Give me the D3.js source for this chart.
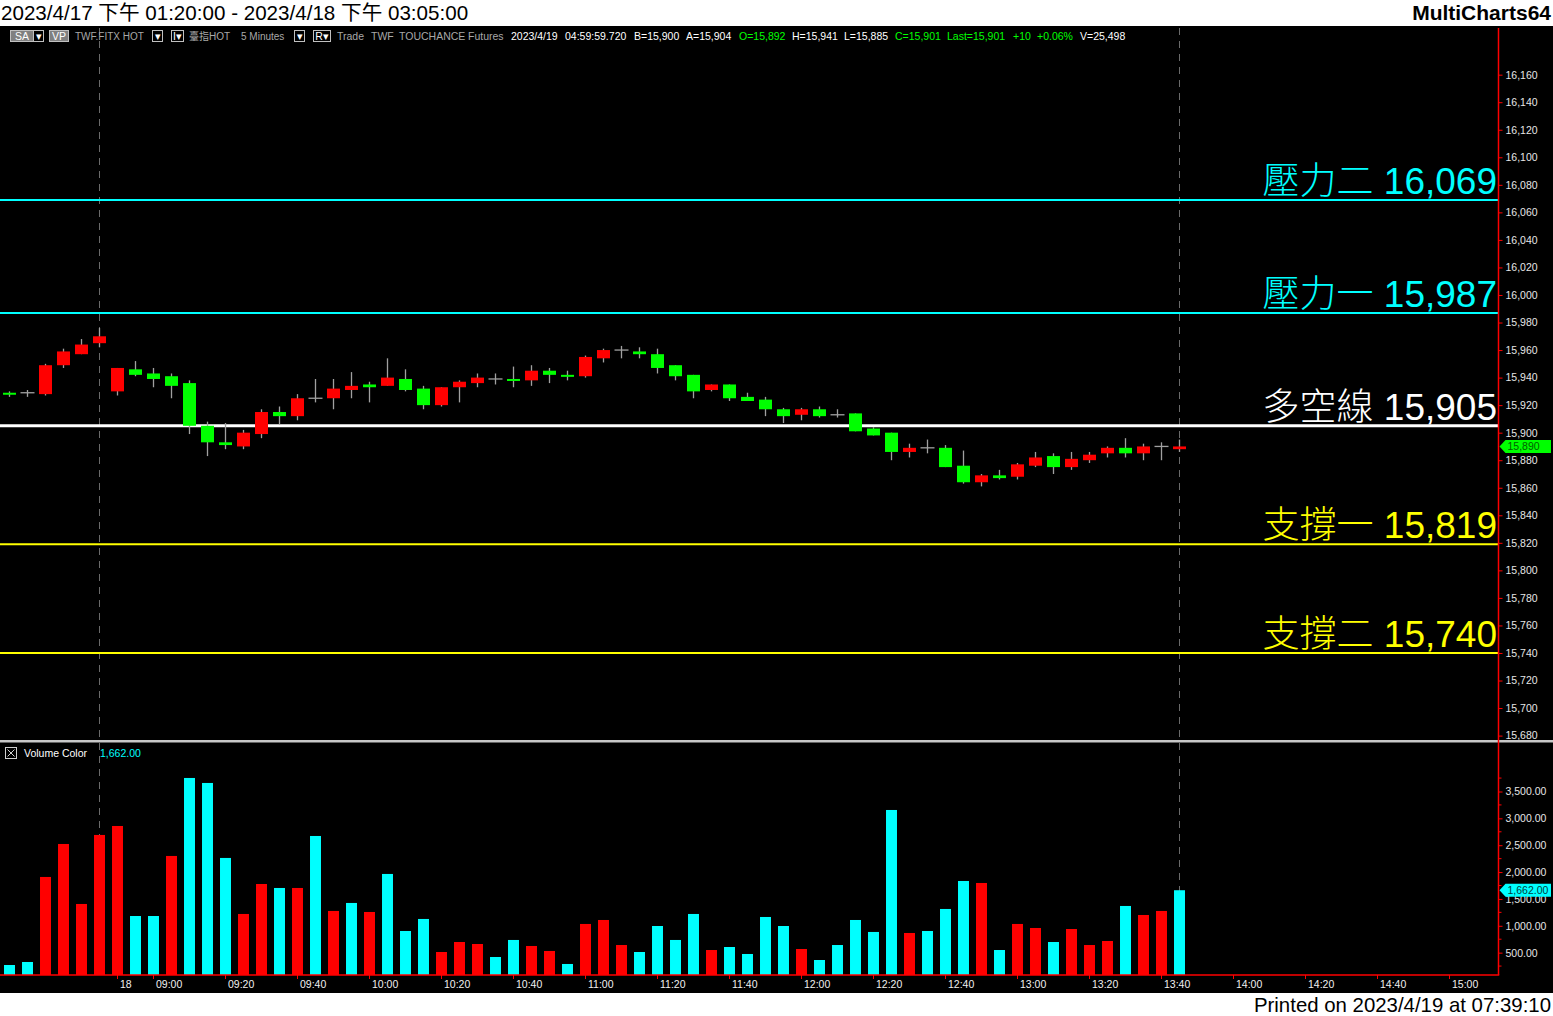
<!DOCTYPE html>
<html><head><meta charset="utf-8">
<script src="https://cdn.jsdelivr.net/npm/d3@7/dist/d3.min.js"></script>
<style>
html,body{margin:0;padding:0;background:#fff;overflow:hidden}
svg{display:block}
text{font-family:"Liberation Sans",Arial,"Noto Sans CJK TC",sans-serif}
</style></head><body>
<svg id="c" width="1553" height="1016"></svg>
<script>
// ---------------- DATA ----------------
const times = [
 "04/17 13:20","04/17 13:25","04/17 13:30","04/17 13:35","04/17 13:40","04/17 13:45",
 "04/18 08:50","04/18 08:55","04/18 09:00","04/18 09:05","04/18 09:10","04/18 09:15",
 "04/18 09:20","04/18 09:25","04/18 09:30","04/18 09:35","04/18 09:40","04/18 09:45",
 "04/18 09:50","04/18 09:55","04/18 10:00","04/18 10:05","04/18 10:10","04/18 10:15",
 "04/18 10:20","04/18 10:25","04/18 10:30","04/18 10:35","04/18 10:40","04/18 10:45",
 "04/18 10:50","04/18 10:55","04/18 11:00","04/18 11:05","04/18 11:10","04/18 11:15",
 "04/18 11:20","04/18 11:25","04/18 11:30","04/18 11:35","04/18 11:40","04/18 11:45",
 "04/18 11:50","04/18 11:55","04/18 12:00","04/18 12:05","04/18 12:10","04/18 12:15",
 "04/18 12:20","04/18 12:25","04/18 12:30","04/18 12:35","04/18 12:40","04/18 12:45",
 "04/18 12:50","04/18 12:55","04/18 13:00","04/18 13:05","04/18 13:10","04/18 13:15",
 "04/18 13:20","04/18 13:25","04/18 13:30","04/18 13:35","04/18 13:40","04/18 13:45"];
const futureTimes = [
 "04/18 13:50","04/18 13:55","04/18 14:00","04/18 14:05","04/18 14:10","04/18 14:15",
 "04/18 14:20","04/18 14:25","04/18 14:30","04/18 14:35","04/18 14:40","04/18 14:45",
 "04/18 14:50","04/18 14:55","04/18 15:00","04/18 15:05","04/18 15:10","04/18 15:15"];
const openP = [15929,15929,15928,15949,15957,15965,15930,15946,15943,15941,15936,15905,15893,15890,15899,15915,15912,15925,15925,15931,15935,15934,15939,15932,15920,15933,15936,15939,15939,15938,15945,15942,15941,15954,15960,15959,15957,15949,15942,15931,15935,15926,15924,15917,15913,15917,15913,15914,15903,15900,15886,15889,15889,15876,15864,15869,15868,15876,15883,15875,15880,15885,15889,15885,15890,15888];
const highP = [15930,15931,15950,15961,15968,15976,15947,15952,15947,15943,15938,15908,15907,15902,15917,15919,15928,15939,15939,15944,15937,15954,15946,15934,15933,15938,15943,15943,15948,15949,15947,15945,15956,15961,15963,15962,15961,15949,15942,15935,15935,15929,15926,15918,15918,15919,15917,15914,15904,15900,15892,15895,15891,15887,15870,15873,15878,15886,15885,15886,15886,15890,15896,15892,15893,15895];
const lowP = [15926,15926,15927,15947,15957,15962,15927,15941,15933,15925,15899,15883,15888,15888,15896,15906,15909,15922,15917,15925,15922,15934,15930,15917,15919,15922,15933,15935,15933,15934,15936,15938,15940,15951,15954,15954,15943,15938,15925,15930,15923,15923,15912,15907,15909,15911,15911,15901,15898,15880,15882,15885,15875,15863,15861,15866,15866,15875,15870,15873,15878,15882,15882,15880,15880,15886];
const closeP = [15928,15929,15949,15959,15964,15970,15947,15942,15939,15934,15905,15893,15891,15900,15915,15912,15925,15925,15932,15934,15933,15940,15931,15920,15933,15937,15940,15939,15938,15945,15942,15941,15955,15960,15960,15957,15947,15941,15930,15935,15925,15923,15917,15912,15917,15912,15913,15901,15898,15886,15889,15889,15875,15864,15869,15867,15877,15882,15875,15881,15884,15889,15885,15890,15890,15890];
const volume = [270,326,1909,2523,1406,2691,2858,1182,1182,2300,3752,3659,2263,1220,1778,1704,1704,2672,1276,1425,1257,1965,903,1127,512,698,661,419,736,624,531,289,1034,1108,642,512,996,736,1220,549,605,475,1164,996,568,363,642,1108,885,3156,866,903,1313,1834,1797,549,1034,959,698,940,642,717,1369,1201,1276,1662];
const volumeUp = [0,0,1,1,1,1,1,0,0,1,0,0,0,1,1,0,1,0,1,0,1,0,0,0,1,1,1,0,0,1,1,0,1,1,1,0,0,0,0,1,0,0,0,0,1,0,0,0,0,0,1,0,0,0,1,0,1,1,0,1,1,1,0,1,1,0];
const levelNames = ["壓力二","壓力一","多空線","支撐一","支撐二"];
const levelValues = [16069,15987,15905,15819,15740];
const priceTicks = [15680,15700,15720,15740,15760,15780,15800,15820,15840,15860,15880,15900,15920,15940,15960,15980,16000,16020,16040,16060,16080,16100,16120,16140,16160];
const volumeTicks = [500,1000,1500,2000,2500,3000,3500];
const timeTickSlots = ["04/18 08:50","04/18 09:00","04/18 09:20","04/18 09:40","04/18 10:00","04/18 10:20","04/18 10:40","04/18 11:00","04/18 11:20","04/18 11:40","04/18 12:00","04/18 12:20","04/18 12:40","04/18 13:00","04/18 13:20","04/18 13:40","04/18 14:00","04/18 14:20","04/18 14:40","04/18 15:00"];
const timeTickLabels = ["18","09:00","09:20","09:40","10:00","10:20","10:40","11:00","11:20","11:40","12:00","12:20","12:40","13:00","13:20","13:40","14:00","14:20","14:40","15:00"];
const sessionEnds = ["04/17 13:45","04/18 13:45"];
const lastPrice = 15890;
const lastVolume = 1662;

// ---------------- LAYOUT ----------------
const svg = d3.select("#c");
const W = 1553, PR = 1498.5;
const mainTop = 26, mainBot = 740, volTop = 743, volBot = 975, chartBot = 993;
const levelColors = ["#00ffff","#00ffff","#ffffff","#ffff00","#ffff00"];
const levelWidths = [2,2,3,2,2];

const slots = times.concat(futureTimes);
const x = d3.scaleBand().domain(slots).range([0.5, 0.5 + 18*slots.length]).paddingInner(0.39).paddingOuter(0.195);
const cx = d => x(d) + x.bandwidth()/2;
const y = d3.scaleLinear().domain([15676.8, 16193.9]).range([740, 28]);
const yv = d3.scaleLinear().domain([0, 3500]).range([979.5, 791.5]);

// backgrounds
svg.append("rect").attr("width",W).attr("height",1016).attr("fill","#fff");
svg.append("rect").attr("x",0).attr("y",mainTop).attr("width",W).attr("height",chartBot-mainTop).attr("fill","#000");

const defs = svg.append("defs");
defs.append("clipPath").attr("id","cm").append("rect").attr("x",0).attr("y",mainTop).attr("width",PR).attr("height",mainBot-mainTop);
defs.append("clipPath").attr("id","cv").append("rect").attr("x",0).attr("y",volTop).attr("width",PR).attr("height",volBot-volTop);
defs.append("clipPath").attr("id","ca").append("rect").attr("x",PR-2).attr("y",mainTop).attr("width",60).attr("height",mainBot-mainTop);

// title
svg.append("text").attr("x",1).attr("y",20).attr("font-size",20.6).attr("fill","#000")
  .text("2023/4/17 下午 01:20:00 - 2023/4/18 下午 03:05:00");
svg.append("text").attr("x",1551).attr("y",20).attr("text-anchor","end").attr("font-size",21).attr("font-weight","bold").attr("fill","#000")
  .text("MultiCharts64");
svg.append("text").attr("x",1551).attr("y",1012).attr("text-anchor","end").attr("font-size",20.4).attr("fill","#000")
  .text("Printed on 2023/4/19 at 07:39:10");

// session dashed lines
svg.append("g").selectAll("line").data(sessionEnds).join("line")
  .attr("x1",d=>cx(d)).attr("x2",d=>cx(d)).attr("y1",mainTop+2).attr("y2",volBot)
  .attr("stroke","#6a6a6a").attr("stroke-width",1).attr("stroke-dasharray","7,6");

// level lines
const lv = svg.append("g").attr("clip-path","url(#cm)");
levelValues.forEach((v,i)=>{
  lv.append("line").attr("x1",0).attr("x2",PR).attr("y1",y(v)).attr("y2",y(v))
    .attr("stroke",levelColors[i]).attr("stroke-width",levelWidths[i]);
  const t = lv.append("text").attr("x",1497).attr("y",y(v)-6).attr("text-anchor","end")
    .attr("font-size",37).attr("fill",levelColors[i]);
  t.append("tspan").attr("font-family","'Noto Sans CJK TC'").attr("font-weight",300).text(levelNames[i]);
  t.append("tspan").text(" " + d3.format(",")(v));
});

// candles
const cg = svg.append("g").attr("clip-path","url(#cm)");
times.forEach((t,i)=>{
  const c = cx(t), o=openP[i], cl=closeP[i];
  cg.append("line").attr("x1",c).attr("x2",c).attr("y1",y(highP[i])).attr("y2",y(lowP[i]))
    .attr("stroke","#a0a0a0").attr("stroke-width",1.3);
  if (o === cl) {
    cg.append("line").attr("x1",c-7).attr("x2",c+7).attr("y1",y(o)).attr("y2",y(o))
      .attr("stroke","#a0a0a0").attr("stroke-width",1.3);
  } else {
    const top = y(Math.max(o,cl)), bot = y(Math.min(o,cl));
    cg.append("rect").attr("x",c-6.5).attr("width",13).attr("y",top).attr("height",Math.max(2,bot-top))
      .attr("fill", cl>o ? "#ff0000" : "#00ff00");
  }
});

// volume bars
svg.append("g").attr("clip-path","url(#cv)").selectAll("rect").data(times).join("rect")
  .attr("x",d=>x(d)).attr("width",x.bandwidth())
  .attr("y",(d,i)=>yv(volume[i])).attr("height",(d,i)=>volBot-yv(volume[i]))
  .attr("fill",(d,i)=>volumeUp[i] ? "#ff0000" : "#00ffff");

// separator
svg.append("rect").attr("x",0).attr("y",mainBot).attr("width",W).attr("height",2.5).attr("fill","#c8c8c8");

// right price axis
const paWrap = svg.append("g").attr("clip-path","url(#ca)");
const pa = paWrap.append("g").attr("transform",`translate(${PR},0)`)
  .call(d3.axisRight(y).tickValues(priceTicks).tickFormat(d3.format(",")).tickSize(4).tickPadding(3));
pa.select(".domain").remove();
pa.selectAll("line").attr("stroke","#ff0000");
pa.selectAll("text").attr("fill","#e6e6e6").attr("font-size",10.5).attr("font-family","'Liberation Sans',Arial");
svg.append("line").attr("x1",PR).attr("x2",PR).attr("y1",mainTop+2).attr("y2",volBot).attr("stroke","#ff0000").attr("stroke-width",1.5);

// right volume axis
const va = svg.append("g").attr("transform",`translate(${PR},0)`)
  .call(d3.axisRight(yv).tickValues(volumeTicks).tickFormat(d3.format(",.2f")).tickSize(4).tickPadding(3));
va.select(".domain").remove();
va.selectAll("line").attr("stroke","#ff0000");
va.selectAll("text").attr("fill","#e6e6e6").attr("font-size",10.5).attr("font-family","'Liberation Sans',Arial");
// minor ticks
svg.append("g").selectAll("line").data(volumeTicks.map(v=>v-250).concat([3750])).join("line")
  .filter(v=>yv(v)>volTop && yv(v)<volBot)
  .attr("x1",PR).attr("x2",PR+3).attr("y1",d=>yv(d)).attr("y2",d=>yv(d)).attr("stroke","#ff0000");

// bottom time axis
const xa = svg.append("g").attr("transform",`translate(0,${volBot})`)
  .call(d3.axisBottom(x).tickValues(timeTickSlots).tickFormat((d,i)=>timeTickLabels[i]).tickSize(4).tickPadding(2));
xa.select(".domain").remove();
xa.selectAll("line").attr("stroke","#ff0000");
xa.selectAll("text").attr("fill","#f0f0f0").attr("font-size",10.5).attr("text-anchor","start").attr("dx",2.5)
  .attr("font-family","'Liberation Sans',Arial");
svg.append("line").attr("x1",0).attr("x2",PR+0.75).attr("y1",volBot).attr("y2",volBot).attr("stroke","#ff0000").attr("stroke-width",1.5);

// last value markers
function marker(yy, label, fill, tcol){
  const g = svg.append("g");
  g.append("path").attr("d",`M${PR+1},${yy} L${PR+7},${yy-6.5} L${W-2},${yy-6.5} L${W-2},${yy+6.5} L${PR+7},${yy+6.5} Z`).attr("fill",fill);
  g.append("text").attr("x",PR+9).attr("y",yy+4).attr("font-size",10.5).attr("fill",tcol).text(label);
}
marker(y(lastPrice), d3.format(",")(lastPrice), "#00ff00", "#006000");
marker(yv(lastVolume), d3.format(",.2f")(lastVolume), "#00ffff", "#004040");

// header row
const hy = 40;
const hdr = svg.append("g").attr("font-size",10.5);
function box(x0,w,label,filled){
  hdr.append("rect").attr("x",x0+0.5).attr("y",30.5).attr("width",w).attr("height",11)
    .attr("fill",filled?"#808080":"#000").attr("stroke","#c0c0c0").attr("stroke-width",1);
  hdr.append("text").attr("x",x0+w/2+0.5).attr("y",hy).attr("text-anchor","middle").attr("fill","#fff").text(label);
}
box(10,23,"SA",true); box(33,10,"▾",false);
box(49,19,"VP",true);
hdr.append("text").attr("x",75).attr("y",hy).attr("fill","#a8a8a8").attr("font-size",10).text("TWF.FITX HOT");
box(152,10,"▾",false);
box(171,12,"I▾",false);
hdr.append("text").attr("x",189).attr("y",hy).attr("fill","#a8a8a8").attr("font-size",10).text("臺指HOT");
hdr.append("text").attr("x",241).attr("y",hy).attr("fill","#a8a8a8").attr("font-size",10).text("5 Minutes");
box(294,10,"▾",false);
box(313,17,"R▾",false);
const items = [
 ["Trade",337,"#a8a8a8"],["TWF",371,"#a8a8a8"],["TOUCHANCE",399,"#a8a8a8"],["Futures",468,"#a8a8a8"],
 ["2023/4/19",511,"#fff"],["04:59:59.720",565,"#fff"],["B=15,900",634,"#fff"],["A=15,904",686,"#fff"],
 ["O=15,892",739,"#00ff00"],["H=15,941",792,"#fff"],["L=15,885",844,"#fff"],["C=15,901",895,"#00ff00"],
 ["Last=15,901",947,"#00ff00"],["+10",1013,"#00ff00"],["+0.06%",1037,"#00ff00"],["V=25,498",1080,"#fff"]];
items.forEach(d=>hdr.append("text").attr("x",d[1]).attr("y",hy).attr("fill",d[2]).text(d[0]));

// volume panel label
const vl = svg.append("g").attr("font-size",10.5);
vl.append("rect").attr("x",5.5).attr("y",747.5).attr("width",11).attr("height",11).attr("fill","#000").attr("stroke","#d0d0d0");
vl.append("path").attr("d","M7.5,749.5 L14.5,756.5 M14.5,749.5 L7.5,756.5").attr("stroke","#d0d0d0");
vl.append("text").attr("x",24).attr("y",757).attr("fill","#fff").text("Volume Color");
vl.append("text").attr("x",100).attr("y",757).attr("fill","#00ffff").text(d3.format(",.2f")(lastVolume));
</script>
</body></html>
